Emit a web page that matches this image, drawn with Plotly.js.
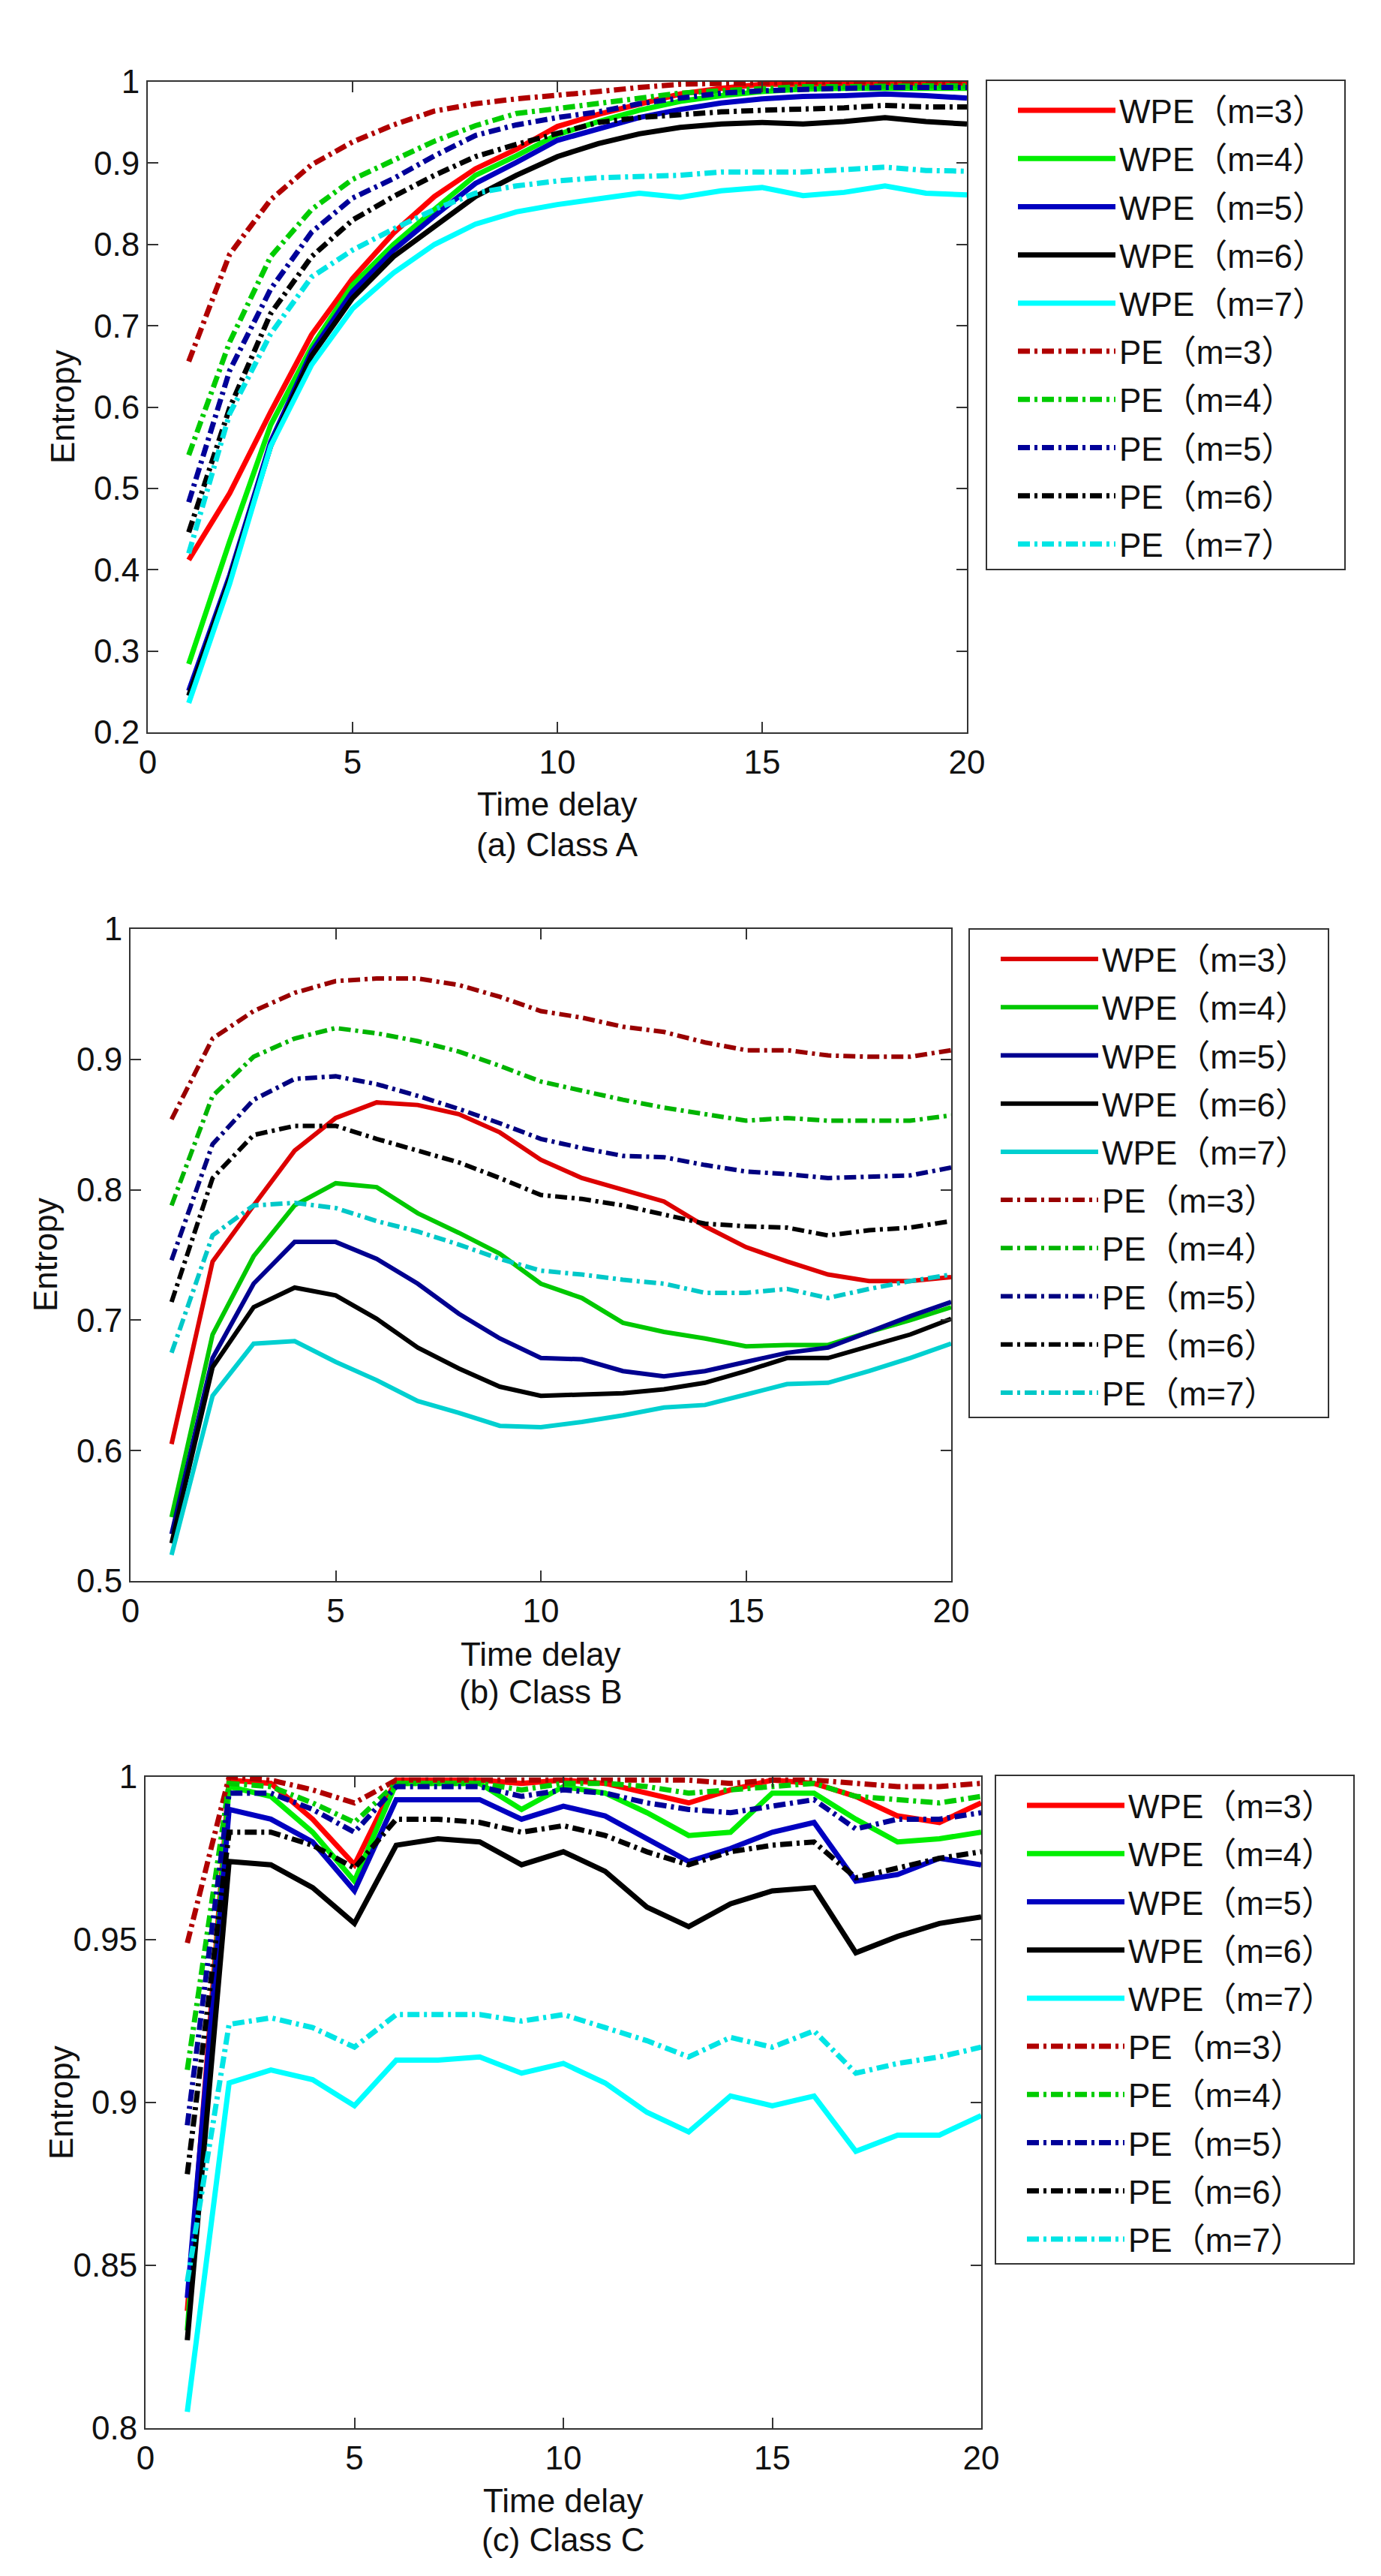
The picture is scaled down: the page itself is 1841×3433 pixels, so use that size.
<!DOCTYPE html>
<html>
<head>
<meta charset="utf-8">
<script src="https://cdn.plot.ly/plotly-3.0.1.min.js"></script>
<style>html,body{margin:0;padding:0;background:#fff;}</style>
</head>
<body>
<div id="entropy" style="width:1841px;height:3433px;"></div>
<script>
var delay = [1,2,3,4,5,6,7,8,9,10,11,12,13,14,15,16,17,18,19,20];
var names = ['WPE（m=3）','WPE（m=4）','WPE（m=5）','WPE（m=6）','WPE（m=7）',
             'PE（m=3）','PE（m=4）','PE（m=5）','PE（m=6）','PE（m=7）'];

// (a) Class A
var aWpe3 = [0.412,0.494,0.594,0.689,0.758,0.814,0.859,0.893,0.917,0.945,0.960,0.973,0.985,0.992,0.997,0.997,0.998,0.998,0.997,0.997];
var aWpe4 = [0.284,0.435,0.578,0.674,0.750,0.800,0.843,0.885,0.909,0.935,0.951,0.965,0.976,0.983,0.988,0.991,0.992,0.992,0.993,0.992];
var aWpe5 = [0.251,0.393,0.557,0.668,0.742,0.793,0.835,0.875,0.901,0.928,0.942,0.956,0.966,0.974,0.979,0.982,0.983,0.985,0.983,0.980];
var aWpe6 = [0.245,0.388,0.552,0.663,0.734,0.785,0.822,0.859,0.885,0.908,0.924,0.936,0.944,0.948,0.950,0.948,0.951,0.956,0.951,0.948];
var aWpe7 = [0.236,0.383,0.552,0.652,0.721,0.765,0.800,0.825,0.840,0.849,0.856,0.863,0.858,0.866,0.870,0.860,0.864,0.872,0.863,0.861];
var aPe3 = [0.656,0.788,0.855,0.898,0.926,0.947,0.964,0.973,0.979,0.983,0.988,0.993,0.997,0.998,0.999,0.999,1.000,1.000,1.000,1.000];
var aPe4 = [0.541,0.680,0.785,0.843,0.880,0.904,0.927,0.946,0.961,0.967,0.973,0.980,0.986,0.989,0.992,0.994,0.994,0.995,0.995,0.995];
var aPe5 = [0.483,0.645,0.745,0.815,0.857,0.881,0.909,0.934,0.947,0.956,0.963,0.973,0.980,0.986,0.989,0.991,0.992,0.993,0.993,0.993];
var aPe6 = [0.446,0.599,0.715,0.785,0.830,0.859,0.885,0.908,0.923,0.937,0.950,0.956,0.960,0.963,0.965,0.966,0.968,0.971,0.969,0.969];
var aPe7 = [0.420,0.592,0.690,0.760,0.793,0.819,0.843,0.863,0.872,0.878,0.882,0.884,0.885,0.889,0.889,0.889,0.892,0.895,0.891,0.890];

// (b) Class B
var bWpe3 = [0.605,0.745,0.788,0.830,0.855,0.867,0.865,0.858,0.844,0.823,0.809,0.800,0.791,0.772,0.756,0.745,0.735,0.730,0.730,0.733];
var bWpe4 = [0.549,0.689,0.749,0.788,0.805,0.802,0.782,0.767,0.751,0.728,0.717,0.698,0.691,0.686,0.680,0.681,0.681,0.691,0.700,0.710];
var bWpe5 = [0.536,0.671,0.728,0.760,0.760,0.747,0.728,0.705,0.686,0.671,0.670,0.661,0.657,0.661,0.668,0.675,0.679,0.691,0.703,0.714];
var bWpe6 = [0.529,0.664,0.710,0.725,0.719,0.701,0.679,0.663,0.649,0.642,0.643,0.644,0.647,0.652,0.661,0.671,0.671,0.680,0.689,0.701];
var bWpe7 = [0.520,0.642,0.682,0.684,0.668,0.654,0.638,0.629,0.619,0.618,0.622,0.627,0.633,0.635,0.643,0.651,0.652,0.661,0.671,0.682];
var bPe3 = [0.854,0.916,0.937,0.951,0.960,0.962,0.962,0.957,0.948,0.937,0.932,0.925,0.921,0.913,0.907,0.907,0.903,0.902,0.902,0.907];
var bPe4 = [0.788,0.872,0.902,0.916,0.924,0.920,0.914,0.906,0.895,0.883,0.876,0.869,0.863,0.858,0.853,0.855,0.853,0.853,0.853,0.857];
var bPe5 = [0.746,0.835,0.869,0.885,0.887,0.881,0.872,0.862,0.851,0.839,0.832,0.826,0.825,0.819,0.814,0.812,0.809,0.810,0.811,0.817];
var bPe6 = [0.714,0.809,0.842,0.849,0.849,0.839,0.830,0.821,0.809,0.796,0.793,0.788,0.781,0.774,0.772,0.771,0.765,0.769,0.771,0.776];
var bPe7 = [0.675,0.765,0.788,0.790,0.786,0.776,0.768,0.758,0.747,0.738,0.735,0.731,0.728,0.721,0.721,0.724,0.717,0.724,0.730,0.735];

// (c) Class C
var cWpe3 = [0.836,0.999,0.998,0.987,0.973,0.999,0.999,0.999,0.998,0.999,0.998,0.995,0.992,0.996,0.999,0.998,0.994,0.988,0.986,0.992];
var cWpe4 = [0.830,0.997,0.994,0.983,0.968,0.998,0.998,0.998,0.990,0.997,0.995,0.989,0.982,0.983,0.995,0.995,0.987,0.980,0.981,0.983];
var cWpe5 = [0.840,0.990,0.987,0.980,0.965,0.993,0.993,0.993,0.987,0.991,0.988,0.981,0.974,0.978,0.983,0.986,0.968,0.970,0.975,0.973];
var cWpe6 = [0.827,0.974,0.973,0.966,0.955,0.979,0.981,0.980,0.973,0.977,0.971,0.960,0.954,0.961,0.965,0.966,0.946,0.951,0.955,0.957];
var cWpe7 = [0.805,0.906,0.910,0.907,0.899,0.913,0.913,0.914,0.909,0.912,0.906,0.897,0.891,0.902,0.899,0.902,0.885,0.890,0.890,0.896];
var cPe3 = [0.949,1.000,0.999,0.996,0.992,0.999,0.999,0.999,0.999,0.999,0.999,0.999,0.999,0.998,0.999,0.999,0.998,0.997,0.997,0.998];
var cPe4 = [0.910,0.998,0.997,0.992,0.986,0.998,0.998,0.998,0.996,0.998,0.998,0.997,0.995,0.996,0.997,0.998,0.994,0.993,0.992,0.994];
var cPe5 = [0.893,0.995,0.995,0.990,0.983,0.997,0.997,0.997,0.994,0.996,0.995,0.992,0.990,0.989,0.991,0.993,0.984,0.987,0.987,0.989];
var cPe6 = [0.878,0.983,0.983,0.979,0.972,0.987,0.987,0.986,0.983,0.985,0.982,0.977,0.973,0.977,0.979,0.980,0.969,0.972,0.975,0.977];
var cPe7 = [0.845,0.924,0.926,0.923,0.917,0.927,0.927,0.927,0.925,0.927,0.923,0.919,0.914,0.920,0.917,0.922,0.909,0.912,0.914,0.917];

var brightColors = ['#ff0000','#00ee00','#0000c0','#000000','#00ffff','#b00000','#00cc00','#000099','#000000','#00e5e5'];
var mutedColors  = ['#dd0000','#00c800','#000090','#000000','#00d0d0','#990000','#00b400','#000080','#000000','#00c8c8'];

var font = 'Liberation Sans, Arial, Noto Sans CJK SC, sans-serif';
var dashDot = '16px,6px,4px,6px';

function panel(series, n, colors, lw) {
  var sfx = n === 1 ? '' : String(n);
  return series.map(function (ys, i) {
    return {
      x: delay, y: ys, type: 'scatter', mode: 'lines',
      name: names[i],
      legendgroup: 'p' + n + '_' + i,
      xaxis: 'x' + sfx, yaxis: 'y' + sfx,
      legend: 'legend' + sfx,
      line: {color: colors[i], width: lw, dash: i < 5 ? 'solid' : dashDot},
      hoverinfo: 'x+y+name'
    };
  });
}

var data = []
  .concat(panel([aWpe3,aWpe4,aWpe5,aWpe6,aWpe7,aPe3,aPe4,aPe5,aPe6,aPe7], 1, brightColors, 7))
  .concat(panel([bWpe3,bWpe4,bWpe5,bWpe6,bWpe7,bPe3,bPe4,bPe5,bPe6,bPe7], 2, mutedColors, 6))
  .concat(panel([cWpe3,cWpe4,cWpe5,cWpe6,cWpe7,cPe3,cPe4,cPe5,cPe6,cPe7], 3, brightColors, 7));

var W = 1841, H = 3433;
function xd(a, b) { return [a / W, b / W]; }
function yd(top, bot) { return [1 - bot / H, 1 - top / H]; }

function xax(dom, anchor) {
  return {domain: dom, anchor: anchor, range: [0, 20], tick0: 0, dtick: 5,
    ticks: 'inside', ticklen: 14, tickwidth: 2, tickcolor: '#333',
    showline: true, linecolor: '#333', linewidth: 2, mirror: 'ticks',
    showgrid: false, zeroline: false, tickfont: {size: 44, color: '#111'}};
}
function yax(dom, anchor, lo, step) {
  return {domain: dom, anchor: anchor, range: [lo, 1], tick0: lo, dtick: step,
    ticks: 'inside', ticklen: 14, tickwidth: 2, tickcolor: '#333',
    showline: true, linecolor: '#333', linewidth: 2, mirror: 'ticks',
    showgrid: false, zeroline: false, tickfont: {size: 44, color: '#111'}};
}
// legend sits inside a separately drawn frame so its inner padding matches
function leg(x, y) {
  return {x: x / W, y: 1 - y / H, xanchor: 'left', yanchor: 'top',
    borderwidth: 0, bgcolor: 'rgba(0,0,0,0)', tracegroupgap: 4,
    font: {size: 44, color: '#111', family: font}, itemwidth: 130};
}
function frame(l, t, r, b) {
  return {type: 'rect', xref: 'paper', yref: 'paper',
    x0: l / W, x1: r / W, y0: 1 - b / H, y1: 1 - t / H,
    line: {color: '#333', width: 2}, fillcolor: '#fff', layer: 'below'};
}
function txt(text, x, y, angle) {
  return {text: text, xref: 'paper', yref: 'paper', x: x / W, y: 1 - y / H,
    xanchor: 'center', yanchor: 'middle', showarrow: false, textangle: angle || 0,
    font: {size: 44, color: '#111', family: font}};
}

var layout = {
  width: W, height: H,
  margin: {l: 0, r: 0, t: 0, b: 0},
  paper_bgcolor: '#fff', plot_bgcolor: '#fff',
  font: {family: font, color: '#111'},
  xaxis: xax(xd(197, 1289), 'y'),
  yaxis: yax(yd(109, 976), 'x', 0.2, 0.1),
  xaxis2: xax(xd(174, 1268), 'y2'),
  yaxis2: yax(yd(1238, 2107), 'x2', 0.5, 0.1),
  xaxis3: xax(xd(194, 1308), 'y3'),
  yaxis3: yax(yd(2368, 3236), 'x3', 0.8, 0.05),
  legend: leg(1352, 112),
  legend2: leg(1329, 1243),
  legend3: leg(1364, 2371),
  shapes: [
    frame(1315, 107, 1793, 759),
    frame(1292, 1238, 1771, 1889),
    frame(1327, 2366, 1805, 3017)
  ],
  annotations: [
    txt('Time delay', 743, 1071), txt('(a) Class A', 743, 1125), txt('Entropy', 84, 542, -90),
    txt('Time delay', 721, 2204), txt('(b) Class B', 721, 2254), txt('Entropy', 60, 1672, -90),
    txt('Time delay', 751, 3332), txt('(c) Class C', 751, 3384), txt('Entropy', 81, 2802, -90)
  ],
  showlegend: true
};

Plotly.newPlot('entropy', data, layout, {displayModeBar: false, staticPlot: true});
</script>
</body>
</html>
